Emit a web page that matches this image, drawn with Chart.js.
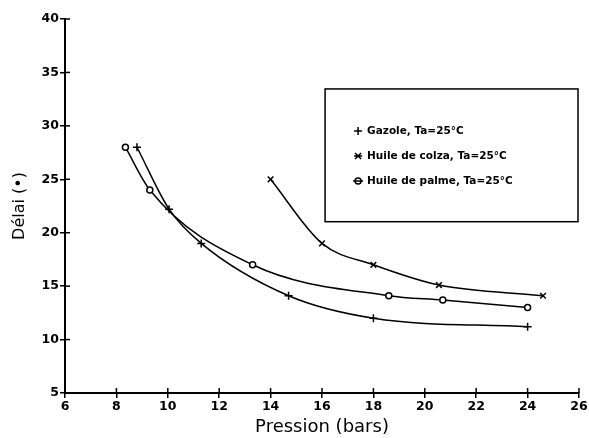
<!DOCTYPE html>
<html>
<head>
<meta charset="utf-8">
<script src="https://cdn.jsdelivr.net/npm/chart.js@4/dist/chart.umd.min.js"></script>
<style>
  html, body { margin: 0; padding: 0; background: #fff; }
  #wrap { width: 589px; height: 438px; }
</style>
</head>
<body>
<div id="wrap"><canvas id="graph" width="589" height="438"></canvas></div>
<script>
// valeurs
const gazoleX = [8.8, 10.05, 11.3, 14.7, 18.0, 24.0];
const gazoleY = [28, 22.2, 19.0, 14.1, 12.0, 11.2];
const colzaX = [14.0, 16.0, 18.0, 20.55, 24.6];
const colzaY = [25, 19, 17, 15.1, 14.1];
const palmeX = [8.35, 9.3, 13.3, 18.6, 20.7, 24.0];
const palmeY = [28, 24, 17, 14.1, 13.7, 13.0];

const labels = ["Gazole, Ta=25°C", "Huile de colza, Ta=25°C", "Huile de palme, Ta=25°C"];
const styles = ["cross", "crossRot", "circle"];

const toPts = (xs, ys) => xs.map((x, i) => ({ x, y: ys[i] }));

function serie(label, pts, style) {
  return {
    label,
    data: pts,
    showLine: true,
    cubicInterpolationMode: "monotone",
    borderColor: "#000",
    borderWidth: 1.5,
    backgroundColor: "#fff",
    pointStyle: style,
    pointRadius: style === "circle" ? 3 : 4,
    pointBorderColor: "#000",
    pointBorderWidth: 1.5,
    pointBackgroundColor: "#fff"
  };
}

// petits traits vers l'intérieur des axes
const innerTicks = {
  id: "innerTicks",
  afterDraw(chart) {
    const { ctx, chartArea: a, scales } = chart;
    ctx.save();
    ctx.strokeStyle = "#000";
    ctx.lineWidth = 1.5;
    scales.x.ticks.forEach(t => {
      const px = scales.x.getPixelForValue(t.value);
      ctx.beginPath(); ctx.moveTo(px, a.bottom); ctx.lineTo(px, a.bottom - 5); ctx.stroke();
    });
    scales.y.ticks.forEach(t => {
      const py = scales.y.getPixelForValue(t.value);
      ctx.beginPath(); ctx.moveTo(a.left, py); ctx.lineTo(a.left + 5, py); ctx.stroke();
    });
    ctx.restore();
  }
};

// légende encadrée dans la zone du graphe
const boxLegend = {
  id: "boxLegend",
  afterDraw(chart) {
    const { ctx, chartArea: a } = chart;
    const w = a.right - a.left, h = a.bottom - a.top;
    const left = a.left + w * 0.506, right = a.right - 1;
    const top = a.top + h * 0.187, bottom = a.top + h * 0.542;
    ctx.save();
    ctx.strokeStyle = "#000";
    ctx.lineWidth = 1.5;
    ctx.strokeRect(left, top, right - left, bottom - top);
    ctx.font = "bold 10.5px 'DejaVu Sans'";
    ctx.fillStyle = "#000";
    ctx.textBaseline = "middle";
    labels.forEach((txt, i) => {
      const y = top + 42 + i * 25;
      const mx = left + 33;
      ctx.beginPath();
      if (i === 0) {
        ctx.moveTo(mx - 4, y); ctx.lineTo(mx + 4, y);
        ctx.moveTo(mx, y - 4); ctx.lineTo(mx, y + 4);
      } else if (i === 1) {
        ctx.moveTo(mx - 4, y); ctx.lineTo(mx + 4, y);
        ctx.moveTo(mx - 3, y - 3); ctx.lineTo(mx + 3, y + 3);
        ctx.moveTo(mx + 3, y - 3); ctx.lineTo(mx - 3, y + 3);
      } else {
        ctx.moveTo(mx - 5, y); ctx.lineTo(mx + 5, y);
        ctx.moveTo(mx + 3, y); ctx.arc(mx, y, 3, 0, Math.PI * 2);
      }
      ctx.stroke();
      ctx.fillText(txt, mx + 9, y);
    });
    ctx.restore();
  }
};

const ctx = document.getElementById("graph").getContext("2d");
new Chart(ctx, {
  type: "scatter",
  data: {
    datasets: [
      serie(labels[0], toPts(gazoleX, gazoleY), styles[0]),
      serie(labels[1], toPts(colzaX, colzaY), styles[1]),
      serie(labels[2], toPts(palmeX, palmeY), styles[2])
    ]
  },
  options: {
    responsive: false,
    animation: false,
    layout: { padding: { top: 19, right: 10, left: 0, bottom: 0 } },
    plugins: {
      legend: { display: false },
      tooltip: { enabled: false }
    },
    scales: {
      x: {
        type: "linear",
        min: 6, max: 26,
        afterFit: s => { s.height = 45; },
        border: { color: "#000", width: 2 },
        grid: { drawOnChartArea: false, color: "#000", lineWidth: 1.5, tickLength: 5 },
        ticks: { stepSize: 2, color: "#000", padding: 1, font: { family: "DejaVu Sans", size: 12.5, weight: "bold" } },
        title: { display: true, text: "Pression (bars)", color: "#000", padding: { top: 0, bottom: 0 }, font: { family: "DejaVu Sans", size: 18 } }
      },
      y: {
        type: "linear",
        min: 5, max: 40,
        afterFit: s => { s.width = 65; },
        border: { color: "#000", width: 2 },
        grid: { drawOnChartArea: false, color: "#000", lineWidth: 1.5, tickLength: 5 },
        ticks: { stepSize: 5, color: "#000", padding: 1, font: { family: "DejaVu Sans", size: 12.5, weight: "bold" } },
        title: { display: true, text: "Délai (•)", color: "#000", padding: { top: 10, bottom: 0 }, font: { family: "DejaVu Sans", size: 16 } }
      }
    }
  },
  plugins: [innerTicks, boxLegend]
});
</script>
</body>
</html>
